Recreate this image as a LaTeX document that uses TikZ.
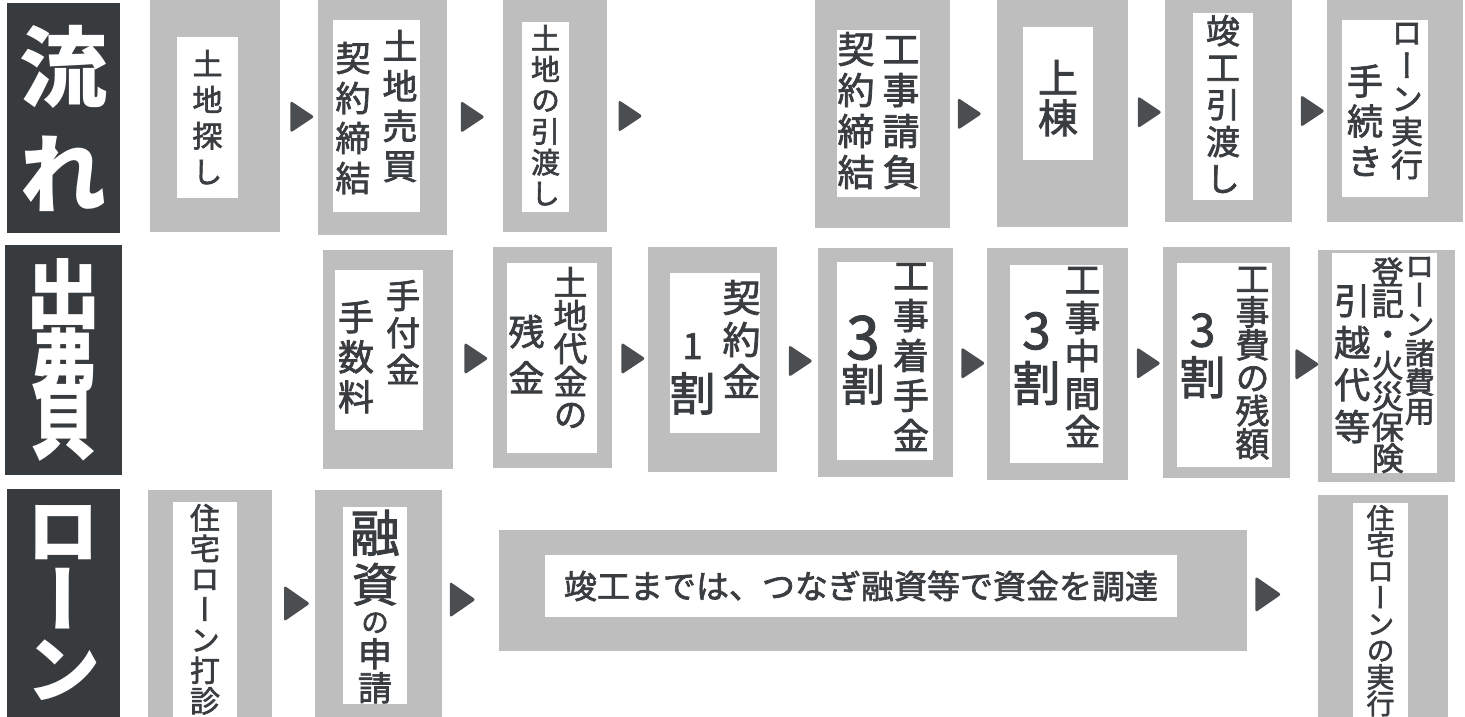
\documentclass[tikz,border=0pt]{standalone}
\usepackage{fontspec}
\usepackage{graphicx}
\usetikzlibrary{fit,calc,positioning,shapes.geometric}
\newfontfamily\jpfont[RawFeature={embolden=2}]{Noto Sans CJK JP}
\newfontfamily\jptate[RawFeature={+vert;embolden=2}]{Noto Sans CJK JP}
\newfontfamily\jplab[RawFeature=+vert]{Noto Sans CJK JP}
\definecolor{labdark}{HTML}{383B3E}
\definecolor{cardgray}{HTML}{BEBEBE}
\definecolor{inkgray}{HTML}{3A3D40}
\definecolor{tipgray}{HTML}{4B4E51}
% one character per \cr, read top to bottom
\newcommand\tate[1]{\vtop{\lineskiplimit=-100pt\halign{\hfil##\hfil\cr#1\crcr}}}
\newcommand\fs[2]{\fontsize{#1}{#2}\selectfont}
\tikzset{
  lab/.style={fill=labdark,inner sep=0pt},
  labmoji/.style={inner sep=0pt,text=white,font=\jplab\bfseries},
  card/.style={fill=cardgray,inner sep=0pt},
  slip/.style={fill=white,inner sep=0pt},
  moji/.style={inner sep=0pt,text=inkgray,font=\jptate},
  tri/.style={isosceles triangle,isosceles triangle stretches,fill=tipgray,inner sep=0pt,
    minimum width=32pt,minimum height=24pt,rounded corners=2.5pt},
}
\begin{document}
\begin{tikzpicture}[x=1pt,y=-1pt]
\useasboundingbox[fill=white] (0,0) rectangle (1465,717);
% row labels
\node[lab,fit={(7,3)(120,233)}] (nagare) {};
\node[labmoji] (nagaret) at (nagare) {\fs{88}{107}\tate{流\cr れ}};
\node[lab,fit={(5,245)(122,475)}] (shuppi) {};
\node[labmoji] (shuppit) at (shuppi) {\fs{76}{125}\tate{出\cr\scalebox{0.95}[2]{\fs{70}{70}費}}};
\node[lab,fit={(7,489)(120,717)}] (loan) {};
\node[labmoji] (loant) at (loan) {\fs{76}{69}\tate{ロ\cr ー\cr ン}};
% flow
\node[card,fit={(150,0)(280,232)}] (tansaku) {};
\node[slip,fit={(177,37)(238,198)}] (tansakuw) {};
\node[moji,below=13pt of tansakuw.north] (tansakut) {\fs{30}{36}\tate{土\cr 地\cr 探\cr し}};
\node[card,fit={(318,0)(447,235)}] (baibai) {};
\node[slip,fit={(333,20)(420,212)}] (baibaiw) {};
\node[moji,below=10pt of baibaiw.north] (baibait) {\fs{35}{40}\raisebox{-12pt}{\tate{契\cr 約\cr 締\cr 結}}\hspace{12pt}\tate{土\cr 地\cr 売\cr 買}};
\node[card,fit={(503,0)(607,232)}] (hikiwatashi) {};
\node[slip,fit={(522,22)(569,212)}] (hikiwatashiw) {};
\node[moji,below=3pt of hikiwatashiw.north] (hikiwatashit) {\fs{29}{31}\tate{土\cr 地\cr の\cr 引\cr 渡\cr し}};
\node[card,fit={(815,0)(950,228)}] (ukeoi) {};
\node[slip,fit={(837,30)(920,197)}] (ukeoiw) {};
\node[moji,below=2pt of ukeoiw.north] (ukeoit) {\fs{37}{41}\tate{契\cr 約\cr 締\cr 結}\hspace{8pt}\tate{工\cr 事\cr 請\cr 負}};
\node[card,fit={(997,0)(1128,227)}] (joto) {};
\node[slip,fit={(1023,27)(1093,160)}] (jotow) {};
\node[moji,below=33pt of jotow.north] (jotot) {\fs{40}{40}\tate{上\cr 棟}};
\node[card,fit={(1165,0)(1292,222)}] (shunko) {};
\node[slip,fit={(1193,13)(1253,200)}] (shunkow) {};
\node[moji,below=2pt of shunkow.north] (shunkot) {\fs{34}{37}\tate{竣\cr 工\cr 引\cr 渡\cr し}};
\node[card,fit={(1327,0)(1463,222)}] (jikko) {};
\node[slip,fit={(1342,20)(1428,197)}] (jikkow) {};
\node[moji,below=3pt of jikkow.north] (jikkot) {{\fs{36}{40}\raisebox{-50pt}{\tate{手\cr 続\cr き}}}\hspace{8pt}\fs{32}{33}\tate{ロ\cr ー\cr ン\cr 実\cr 行}};
% payments
\node[card,fit={(323,250)(453,469)}] (tetsuke) {};
\node[slip,fit={(335,270)(423,430)}] (tetsukew) {};
\node[moji,below=10pt of tetsukew.north] (tetsuket) {{\fs{36}{40}\raisebox{-22pt}{\tate{手\cr 数\cr 料}}}\hspace{12pt}\fs{34}{37}\tate{手\cr 付\cr 金}};
\node[card,fit={(493,247)(612,468)}] (zankin) {};
\node[slip,fit={(507,263)(597,453)}] (zankinw) {};
\node[moji,below=4pt of zankinw.north,xshift=-4pt] (zankint) {{\fs{36}{46}\raisebox{-50pt}{\tate{残\cr 金}}}\hspace{9pt}\fs{34}{33}\tate{土\cr 地\cr 代\cr 金\cr の}};
\node[card,fit={(648,247)(777,472)}] (keiyaku) {};
\node[slip,fit={(670,273)(760,433)}] (keiyakuw) {};
\node[moji,below=7pt of keiyakuw.north] (keiyakut) {{\fs{46}{52}\raisebox{-47pt}{\tate{\fs{36}{36}1\cr 割}}}\hspace{7pt}\fs{38}{42}\tate{契\cr 約\cr 金}};
\node[card,fit={(818,248)(953,477)}] (chakushu) {};
\node[slip,fit={(837,262)(933,460)}] (chakushuw) {};
\node[moji,below=1pt of chakushuw.north] (chakushut) {{\fs{44}{42}\raisebox{-70pt}{\tate{\fs{60}{60}3\cr 割}}}\hspace{8pt}\fs{36}{40}\tate{工\cr 事\cr 着\cr 手\cr 金}};
\node[card,fit={(987,248)(1128,480)}] (chukan) {};
\node[slip,fit={(1010,265)(1103,463)}] (chukanw) {};
\node[moji,below=2pt of chukanw.north] (chukant) {{\fs{48}{52}\raisebox{-56pt}{\tate{\fs{51}{51}3\cr 割}}}\hspace{4pt}\fs{36}{38}\tate{工\cr 事\cr 中\cr 間\cr 金}};
\node[card,fit={(1163,247)(1290,478)}] (zangaku) {};
\node[slip,fit={(1177,263)(1272,467)}] (zangakuw) {};
\node[moji,below=4pt of zangakuw.north] (zangakut) {{\fs{46}{48}\raisebox{-55pt}{\tate{\fs{46}{46}3\cr 割}}}\hspace{10pt}\fs{34}{33}\tate{工\cr 事\cr 費\cr の\cr 残\cr 額}};
\node[card,fit={(1318,250)(1455,482)}] (shohiyo) {};
\node[slip,fit={(1332,253)(1437,473)}] (shohiyow) {};
\node[moji,below=4pt of shohiyow.north] (shohiyot) {{\fs{36}{42}\raisebox{-37pt}{\tate{引\cr 越\cr 代\cr 等}}}\hspace{1.5pt}{\fs{32}{31}\raisebox{-7pt}{\tate{登\cr 記\cr ・\cr 火\cr 災\cr 保\cr 険}}}\hspace{1pt}\fs{30}{29}\tate{ロ\cr ー\cr ン\cr 諸\cr 費\cr 用}};
% loan
\node[card,fit={(148,490)(272,717)}] (dashin) {};
\node[slip,fit={(173,502)(237,740)}] (dashinw) {};
\node[moji,below=2pt of dashinw.north] (dashint) {\fs{30}{30.5}\tate{住\cr 宅\cr ロ\cr ー\cr ン\cr 打\cr 診}};
\node[card,fit={(315,490)(442,717)}] (shinsei) {};
\node[slip,fit={(343,507)(407,704)}] (shinseiw) {};
\node[moji,below=3pt of shinseiw.north] (shinseit) {\fs{34}{34}\tate{\fs{50}{50}融\cr\noalign{\vskip16pt}\fs{46}{46}資\cr\noalign{\vskip-3pt}\fs{28}{28}の\cr 申\cr 請}};
\node[card,fit={(499,530)(1247,651)}] (tsunagi) {};
\node[slip,fit={(545,555)(1177,617)}] (tsunagiw) {};
\node[moji,font=\jpfont] (tsunagit) at (tsunagiw) {\fs{33}{40}竣工までは、つなぎ融資等で資金を調達};
\node[card,fit={(1318,495)(1448,717)}] (loanjikko) {};
\node[slip,fit={(1353,503)(1408,740)}] (loanjikkow) {};
\node[moji,below=2pt of loanjikkow.north] (loanjikkot) {\fs{28}{26.5}\tate{住\cr 宅\cr ロ\cr ー\cr ン\cr の\cr 実\cr 行}};
% arrows
\foreach \a/\b/\r [count=\i] in {tansaku/baibai/0.5,baibai/hikiwatashi/0.4,ukeoi/joto/0.35,joto/shunko/0.5,shunko/jikko/0.5,
  tetsuke/zankin/0.5,zankin/keiyaku/0.5,keiyaku/chakushu/0.5,chakushu/chukan/0.5,chukan/zangaku/0.5,zangaku/shohiyo/0.5}
  \node[tri] (a\i) at ($(\a.east)!\r!(\b.west)$) {};
\node[tri] (a0) at ([xshift=20pt]hikiwatashi.east) {};
\foreach \a/\b/\r [count=\i] in {dashin/shinsei/0.5,shinsei/tsunagi/0.3,tsunagi/loanjikko/0.25}
  \node[tri,minimum width=36pt,minimum height=26pt] (c\i) at ($(\a.east)!\r!(\b.west)$) {};
\end{tikzpicture}
\end{document}
